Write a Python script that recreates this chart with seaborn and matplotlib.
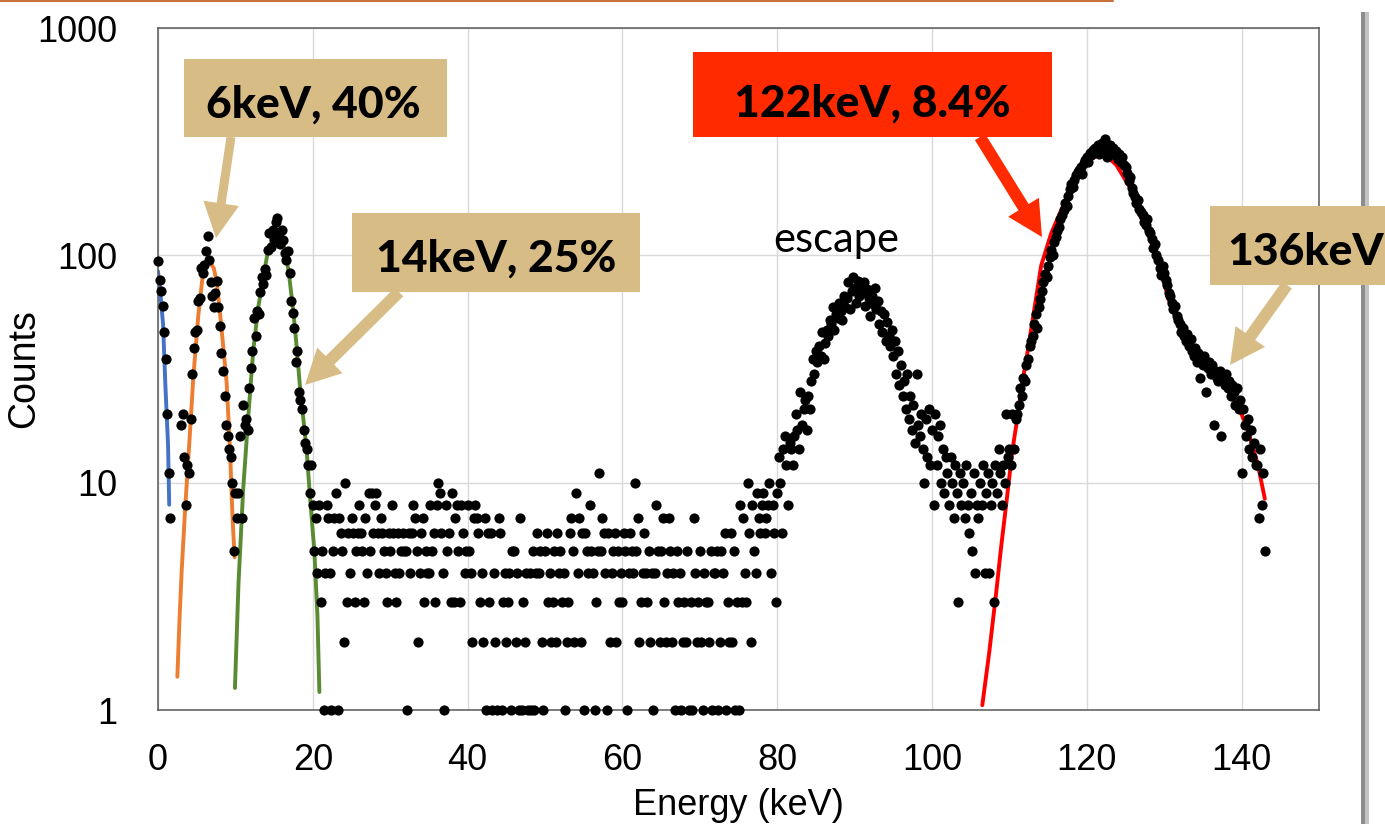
import numpy as np
import pandas as pd
import seaborn as sns
import matplotlib.pyplot as plt
from matplotlib.patches import Rectangle, FancyArrow
from matplotlib.transforms import IdentityTransform
from matplotlib.lines import Line2D

##################################################
# Spectrum (counts per 0.2 keV bin, 0 = empty bin)
##################################################
bin_kev = 0.2

# 0.0 - 9.8 keV
counts_xray = [
    94, 78, 70, 60, 46, 35, 20, 11, 7, 0,
    0, 0, 0, 0, 0, 18, 20, 13, 8, 12,
    11, 19, 30, 39, 46, 47, 63, 65, 88, 84,
    91, 105, 122, 95, 76, 66, 59, 68, 77, 59,
    49, 37, 31, 24, 18, 16, 14, 13, 10, 5,
]
# 10.0 - 19.8 keV
counts_14kev = [
    9, 7, 9, 16, 7, 22, 18, 19, 17, 26,
    32, 38, 53, 44, 57, 55, 69, 80, 75, 87,
    82, 106, 126, 109, 129, 118, 140, 146, 120, 112,
    129, 117, 102, 95, 104, 84, 63, 56, 48, 34,
    38, 25, 23, 21, 17, 15, 14, 12, 9, 12,
]
# 20.0 - 79.8 keV
counts_flat = [
    8, 5, 7, 4, 8,   3, 5, 1, 4, 8,   7, 4, 1, 5, 7,   9, 1, 7, 6, 5,
    2, 10, 3, 6, 4,  7, 6, 3, 5, 6,   8, 6, 5, 3, 7,   4, 9, 5, 9, 6,
    8, 9, 6, 4, 7,   6, 5, 4, 3, 6,   5, 8, 6, 4, 3,   6, 4, 5, 6, 5,
    5, 1, 6, 4, 6,   8, 7, 5, 2, 4,   6, 7, 3, 5, 4,   4, 8, 5, 6, 3,
    8, 10, 9, 6, 4,  1, 8, 5, 6, 3,   9, 3, 7, 8, 5,   3, 8, 6, 4, 5,
    8, 5, 4, 2, 7,   8, 7, 6, 3, 4,   2, 7, 1, 6, 3,   6, 1, 4, 2, 1,
    7, 6, 1, 3, 4,   2, 3, 4, 1, 5,   5, 2, 4, 1, 7,   1, 3, 2, 4, 1,
    4, 1, 5, 1, 4,   6, 4, 5, 2, 1,   5, 6, 3, 4, 2,   3, 5, 2, 6, 4,
    5, 3, 4, 1, 2,   3, 6, 7, 5, 2,   9, 4, 7, 2, 6,   1, 6, 5, 4, 8,
    5, 4, 1, 3, 5,   11, 5, 7, 6, 4,  1, 6, 2, 4, 5,   6, 2, 5, 3, 4,
    3, 6, 5, 1, 4,   6, 5, 4, 10, 5,  7, 2, 3, 4, 6,   4, 3, 5, 2, 4,
    1, 4, 8, 5, 2,   5, 7, 3, 2, 4,   7, 5, 2, 4, 1,   5, 3, 4, 1, 2,
    3, 2, 5, 1, 3,   1, 7, 4, 2, 3,   5, 2, 1, 4, 3,   3, 2, 5, 1, 4,
    4, 5, 1, 2, 5,   4, 6, 1, 3, 2,   6, 2, 5, 1, 3,   1, 8, 3, 7, 4,
    3, 10, 6, 2, 8,  5, 4, 9, 7, 6,   8, 9, 6, 7, 8,   10, 4, 8, 6, 3,
]
# 80.0 - 105.8 keV
counts_escape = [
    9, 13, 10, 6, 14,    16, 12, 8, 15, 14,   12, 16, 20, 17, 14,   25, 18, 21, 23, 17,
    24, 21, 28, 35, 30,  38, 34, 40, 36, 46,  35, 41, 47, 44, 52,   50, 59, 47, 55, 53,
    62, 57, 52, 66, 59,  65, 76, 58, 70, 80,  72, 62, 77, 66, 74,   68, 76, 60, 71, 65,
    54, 66, 61, 72, 58,  63, 50, 57, 46, 55,  42, 51, 44, 40, 47,   36, 42, 30, 38, 27,
    33, 24, 28, 21, 30,  19, 24, 17, 22, 15,  30, 18, 16, 20, 14,   10, 19, 13, 21, 12,
    17, 8, 20, 12, 16,   18, 10, 14, 9, 13,   11, 8, 13, 10, 7,     12, 9, 3, 11, 8,
    10, 7, 12, 8, 6,     9, 5, 11, 4, 8,
]
# 106.0 - 143.0 keV
counts_122kev = [
    7, 10, 8, 12, 4,        9, 11, 4, 8, 10,       3, 12, 9, 14, 11,      8, 12, 10, 20, 13,
    14, 12, 20, 14, 19,     20, 22, 26, 24, 29,    28, 33, 35, 40, 42,    44, 50, 55, 48, 59,
    64, 70, 76, 83, 80,     90, 98, 106, 100, 115, 120, 128, 133, 145, 150, 158, 170, 165, 182, 195,
    205, 200, 215, 225, 232, 238, 245, 228, 255, 262, 270, 258, 282, 276, 290, 296, 284, 305, 278, 300,
    312, 290, 325, 270, 298, 306, 282, 296, 275, 288, 266, 280, 258, 270, 250, 245, 230, 212, 220, 198,
    188, 180, 170, 175, 160, 155, 150, 140, 136, 145, 128, 125, 118, 108, 112, 100, 95, 88, 82, 90,
    84, 78, 74, 68, 66,     62, 58, 60, 54, 52,    50, 46, 48, 44, 42,    45, 40, 43, 38, 36,
    39, 34, 37, 29, 35,     33, 36, 25, 32, 34,    30, 33, 18, 31, 29,    28, 31, 16, 29, 27,
    30, 26, 28, 24, 27,     25, 22, 26, 21, 23,    11, 21, 18, 16, 19,    14, 17, 13, 15, 12,
    12, 7, 14, 8, 11,       5,
]

##################################################
# Fitted peaks
##################################################
fit_blue_e = [0.0, 0.3, 0.65, 0.95, 1.3, 1.45]
fit_blue_c = [85, 68, 50, 27, 14.6, 8]

fit_orange_e = [2.5, 2.8, 3.06, 3.5, 4.1, 4.56, 5.2, 5.85, 6.5, 7.2, 7.6, 8.2, 8.87, 9.3, 9.63, 9.9]
fit_orange_c = [1.4, 2.6, 4.1, 7.6, 16, 29, 54, 86, 95, 88, 76, 48, 27.5, 14, 7, 4.7]

fit_green_e = [9.94, 10.4, 11.0, 11.66, 12.3, 12.95, 13.6, 14.24, 15.0, 15.5, 16.0, 16.4,
               16.9, 17.5, 17.9, 18.3, 18.75, 19.2, 19.6, 20.2, 20.6, 20.85]
fit_green_c = [1.25, 3.6, 9.3, 19.5, 38, 59, 80, 106, 122, 125, 118, 106,
               84, 56, 40, 27.5, 19.5, 14, 9, 5, 2.6, 1.2]

fit_red_e = [106.5, 107.4, 108.3, 108.9, 109.6, 110.4, 110.9, 111.7, 112.2, 113.0, 114.1, 115.4,
             116.9, 118.2, 119.9, 122.0, 123.8, 125.5, 126.8, 128.1, 129.4, 130.7, 132.5,
             135.0, 137.5, 139.3, 140.8, 142.1, 143.0]
fit_red_c = [1.05, 1.8, 3.3, 5.1, 8.1, 14, 18, 28, 35, 52, 90, 125,
             164, 210, 256, 285, 250, 201, 152, 120, 89, 62, 44,
             36, 29, 23, 17, 12, 8.5]

x_ticks = [0, 20, 40, 60, 80, 100, 120, 140]
y_ticks = [1, 10, 100, 1000]
y_tick_labels = ["1", "10", "100", "1000"]

labels = ["6keV, 40%", "14keV, 25%", "122keV, 8.4%", "136keV"]


def main():
    sns.set_style("white")
    plt.rcParams["font.family"] = ["Liberation Sans", "DejaVu Sans"]
    plt.rcParams["text.color"] = "black"
    plt.rcParams["axes.labelcolor"] = "black"

    counts = counts_xray + counts_14kev + counts_flat + counts_escape + counts_122kev
    spectrum = pd.DataFrame({"energy": np.arange(len(counts)) * bin_kev,
                             "counts": counts})
    spectrum = spectrum[spectrum["counts"] > 0]

    W, H = 1385, 824
    fig = plt.figure(figsize=(W / 100, H / 100), dpi=100)
    ax = fig.add_axes([158 / W, 1 - 710 / H, 1161 / W, 682 / H])
    ax.set_yscale("log")

    fits = [(fit_blue_e, fit_blue_c, "#4472C4"),
            (fit_orange_e, fit_orange_c, "#ED7D31"),
            (fit_green_e, fit_green_c, "#5A8A32"),
            (fit_red_e, fit_red_c, "#FF0000")]
    for fe, fc, col in fits:
        sns.lineplot(x=fe, y=fc, color=col, linewidth=2.8, sort=False,
                     estimator=None, ax=ax, zorder=2)

    sns.scatterplot(data=spectrum, x="energy", y="counts", color="black",
                    s=54, linewidth=0, ax=ax, zorder=3, clip_on=False)

    ax.set_xlim(0, 150)
    ax.set_ylim(1, 1000)
    ax.set_xticks(x_ticks)
    ax.set_yticks(y_ticks)
    ax.set_yticklabels(y_tick_labels)
    ax.minorticks_off()
    ax.tick_params(length=0, labelsize=26, colors="black")
    ax.tick_params(axis="y", pad=29)
    ax.tick_params(axis="x", pad=24)
    ax.grid(True, color="#D9D9D9", linewidth=1)
    ax.set_axisbelow(True)
    for sp in ax.spines.values():
        sp.set_color("#595959")
        sp.set_linewidth(1.1)

    ax.set_xlabel("Energy (keV)", fontsize=26, color="black")
    ax.set_ylabel("Counts", fontsize=27, color="black")
    ax.xaxis.set_label_coords(0.5, -0.114)
    ax.yaxis.set_label_coords(-0.1, 0.5)

    # annotation boxes and arrows, in image pixels (y down)
    ident = IdentityTransform()
    tan = "#D8BC85"
    red = "#FF2A00"
    boxes = [(184, 59, 447, 137, tan), (352, 213, 640, 292, tan),
             (693, 52, 1052, 137, red), (1210, 206, 1400, 285, tan)]
    for x0, y0, x1, y1, col in boxes:
        fig.add_artist(Rectangle((x0, H - y1), x1 - x0, y1 - y0, transform=ident,
                                 facecolor=col, edgecolor="none", zorder=5))

    arrows = [((231, 137), (216, 238), tan, 9),
              ((399, 292), (305, 385), tan, 12),
              ((980, 137), (1042, 237), red, 12),
              ((1287, 285), (1230, 365), tan, 12)]
    for (tx, ty), (hx, hy), col, w in arrows:
        fig.add_artist(FancyArrow(tx, H - ty, hx - tx, ty - hy, width=w,
                                  head_width=36, head_length=35,
                                  length_includes_head=True, transform=ident,
                                  color=col, linewidth=0, zorder=5))

    text_pos = [(313, 118), (496, 272), (872, 117), (1306, 265)]
    for s, (x, y) in zip(labels, text_pos):
        fig.text(x / W, 1 - y / H, s, ha="center", va="baseline", fontsize=32,
                 fontweight="black", color="black",
                 family=["Lato", "DejaVu Sans"], zorder=6)

    fig.text(836 / W, 1 - 252 / H, "escape", ha="center", va="baseline",
             fontsize=30, color="black", family=["Lato", "DejaVu Sans"])

    # slide decorations: orange rule on top, picture shadow on the right
    fig.add_artist(Line2D([0, 1113], [H - 1, H - 1], transform=ident,
                          color="#C8713A", linewidth=1.5))
    fig.add_artist(Rectangle((1361, 0), 4, H - 12, transform=ident,
                             facecolor="#8E8E8E", edgecolor="none", zorder=1))
    fig.add_artist(Rectangle((1365, 0), 4, H - 12, transform=ident,
                             facecolor="#C4C4C4", edgecolor="none", zorder=1))

    fig.savefig("out.png", dpi=100)


if __name__ == "__main__":
    main()
